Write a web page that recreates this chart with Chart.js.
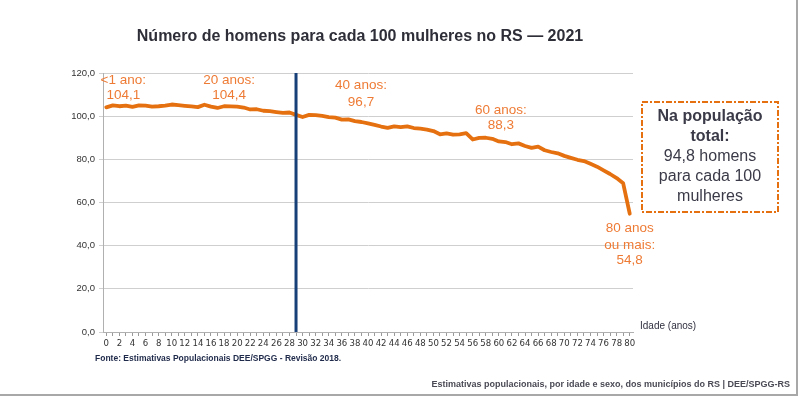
<!DOCTYPE html>
<html><head><meta charset="utf-8">
<script src="https://cdn.jsdelivr.net/npm/chart.js@4/dist/chart.umd.min.js"></script>
<style>html,body{margin:0;padding:0;background:#fff}#wrap{position:relative;width:800px;height:396px}</style>
</head><body><div id="wrap"><canvas id="c" width="800" height="396"></canvas></div>
<script>
const ages = ['0','1','2','3','4','5','6','7','8','9','10','11','12','13','14','15','16','17','18','19','20','21','22','23','24','25','26','27','28','29','30','31','32','33','34','35','36','37','38','39','40','41','42','43','44','45','46','47','48','49','50','51','52','53','54','55','56','57','58','59','60','61','62','63','64','65','66','67','68','69','70','71','72','73','74','75','76','77','78','79','80'];
const ratio = [104.1,105.0,104.6,104.9,104.3,105.0,104.9,104.4,104.6,104.9,105.4,105.1,104.8,104.5,104.2,105.3,104.4,103.8,104.6,104.5,104.4,104.0,103.1,103.2,102.5,102.3,101.9,101.5,101.7,100.6,99.6,100.6,100.5,100.1,99.6,99.3,98.4,98.5,97.7,97.3,96.7,96.0,95.2,94.6,95.3,94.9,95.3,94.5,94.2,93.8,93.1,91.6,92.0,91.4,91.6,92.1,89.2,89.9,90.0,89.5,88.3,88.0,87.0,87.4,86.2,85.3,85.9,84.2,83.4,82.8,81.6,80.7,79.8,79.2,77.9,76.6,74.9,73.2,71.3,68.9,54.8];
const yTicks = [0,20,40,60,80,100,120];
const markerAge = 29;
const notes = [
  {i:0,  dx:17, lines:['<1 ano:','104,1'], yv:[116.7,109.8]},
  {i:20, dx:-8, lines:['20 anos:','104,4'], yv:[116.7,109.8]},
  {i:40, dx:-7, lines:['40 anos:','96,7'], yv:[114.4,106.6]},
  {i:60, dx:2,  lines:['60 anos:','88,3'], yv:[102.8,95.8]},
  {i:80, dx:0,  lines:['80 anos','ou mais:','54,8'], yv:[48.0,40.0,33.3]}
];
const boxLines = [['Na população',true],['total:',true],['94,8 homens',false],['para cada 100',false],['mulheres',false]];
const title = 'Número de homens para cada 100 mulheres no RS — 2021';
const source = 'Fonte: Estimativas Populacionais DEE/SPGG - Revisão 2018.';
const footer = 'Estimativas populacionais, por idade e sexo, dos municípios do RS | DEE/SPGG-RS';
const xTitle = 'Idade (anos)';

const ORANGE = '#e5700f';
const TXT_OR = '#ee7b35';

const deco = {
  id:'deco',
  afterDatasetsDraw(chart){
    const ctx = chart.ctx, xs = chart.scales.x, ys = chart.scales.y, ca = chart.chartArea;
    ctx.save();
    const mx = xs.getPixelForValue(ages.indexOf(String(markerAge)));
    ctx.strokeStyle = '#173f78'; ctx.lineWidth = 3;
    ctx.beginPath(); ctx.moveTo(mx, ca.top); ctx.lineTo(mx, ca.bottom); ctx.stroke();
    ctx.fillStyle = TXT_OR; ctx.font = '13.5px "Liberation Sans", Arial, sans-serif';
    ctx.textAlign = 'center'; ctx.textBaseline = 'middle';
    notes.forEach(n=>{
      const x = xs.getPixelForValue(n.i) + n.dx;
      n.lines.forEach((t,k)=>ctx.fillText(t, x, ys.getPixelForValue(n.yv[k])));
    });
    ctx.fillStyle = '#2e2e38'; ctx.font = 'bold 16px "Liberation Sans", Arial, sans-serif';
    ctx.fillText(title, 360, 37);
    ctx.fillStyle = '#303040'; ctx.font = '10px "Liberation Sans", Arial, sans-serif';
    ctx.textAlign = 'left';
    ctx.fillText(xTitle, ca.right + 7, 326);
    ctx.fillStyle = '#1f2a4a'; ctx.font = 'bold 8.5px "Liberation Sans", Arial, sans-serif';
    ctx.fillText(source, 95, 359);
    ctx.textAlign = 'right'; ctx.fillStyle = '#4a4a55'; ctx.font = 'bold 9px "Liberation Sans", Arial, sans-serif';
    ctx.fillText(footer, 790, 385);
    const bx = ca.right + 9, by = 102, bw = 136, bh = 110;
    ctx.strokeStyle = ORANGE; ctx.lineWidth = 2; ctx.setLineDash([6,2,2,2]);
    ctx.strokeRect(bx, by, bw, bh); ctx.setLineDash([]);
    ctx.textAlign = 'center'; ctx.fillStyle = '#3a3a48';
    boxLines.forEach((b,k)=>{
      ctx.font = (b[1]?'bold ':'') + '16px "Liberation Sans", Arial, sans-serif';
      ctx.fillText(b[0], bx + bw/2, by + 15 + k*20);
    });
    ctx.strokeStyle = '#a8a8a8'; ctx.lineWidth = 2;
    ctx.beginPath(); ctx.moveTo(797, 0); ctx.lineTo(797, 395); ctx.lineTo(0, 395); ctx.stroke();
    ctx.restore();
  }
};

new Chart(document.getElementById('c'), {
  type:'line',
  data:{labels:ages, datasets:[{data:ratio, borderColor:ORANGE, borderWidth:3.8, pointRadius:0, tension:0, fill:false, borderJoinStyle:'round', borderCapStyle:'round'}]},
  options:{
    responsive:false, animation:false, devicePixelRatio:1,
    layout:{padding:{top:73, right:167, left:0, bottom:0}},
    plugins:{legend:{display:false}, tooltip:{enabled:false}},
    scales:{
      x:{type:'category', offset:true,
        afterFit(s){s.height=64;},
        grid:{drawOnChartArea:false, tickLength:4, color:'#9a9a9a'},
        border:{color:'#b0b0b0'},
        ticks:{autoSkip:false, maxRotation:0, minRotation:0, padding:2, color:'#333',
          font:{family:'"Liberation Sans Narrow", "DejaVu Sans Condensed", sans-serif', size:9.5},
          callback(v,i){return i%2===0 ? ages[i] : '';}}
      },
      y:{min:0, max:120, afterFit(s){s.width=103;},
        afterBuildTicks(s){s.ticks = yTicks.map(v=>({value:v}));},
        grid:{color:'#cfcfcf', tickLength:4},
        border:{color:'#b0b0b0'},
        ticks:{padding:4, color:'#333', font:{family:'"Liberation Sans", Arial, sans-serif', size:9.5},
          callback(v){return v.toFixed(1).replace('.',',');}}
      }
    }
  },
  plugins:[deco]
});
</script></body></html>
